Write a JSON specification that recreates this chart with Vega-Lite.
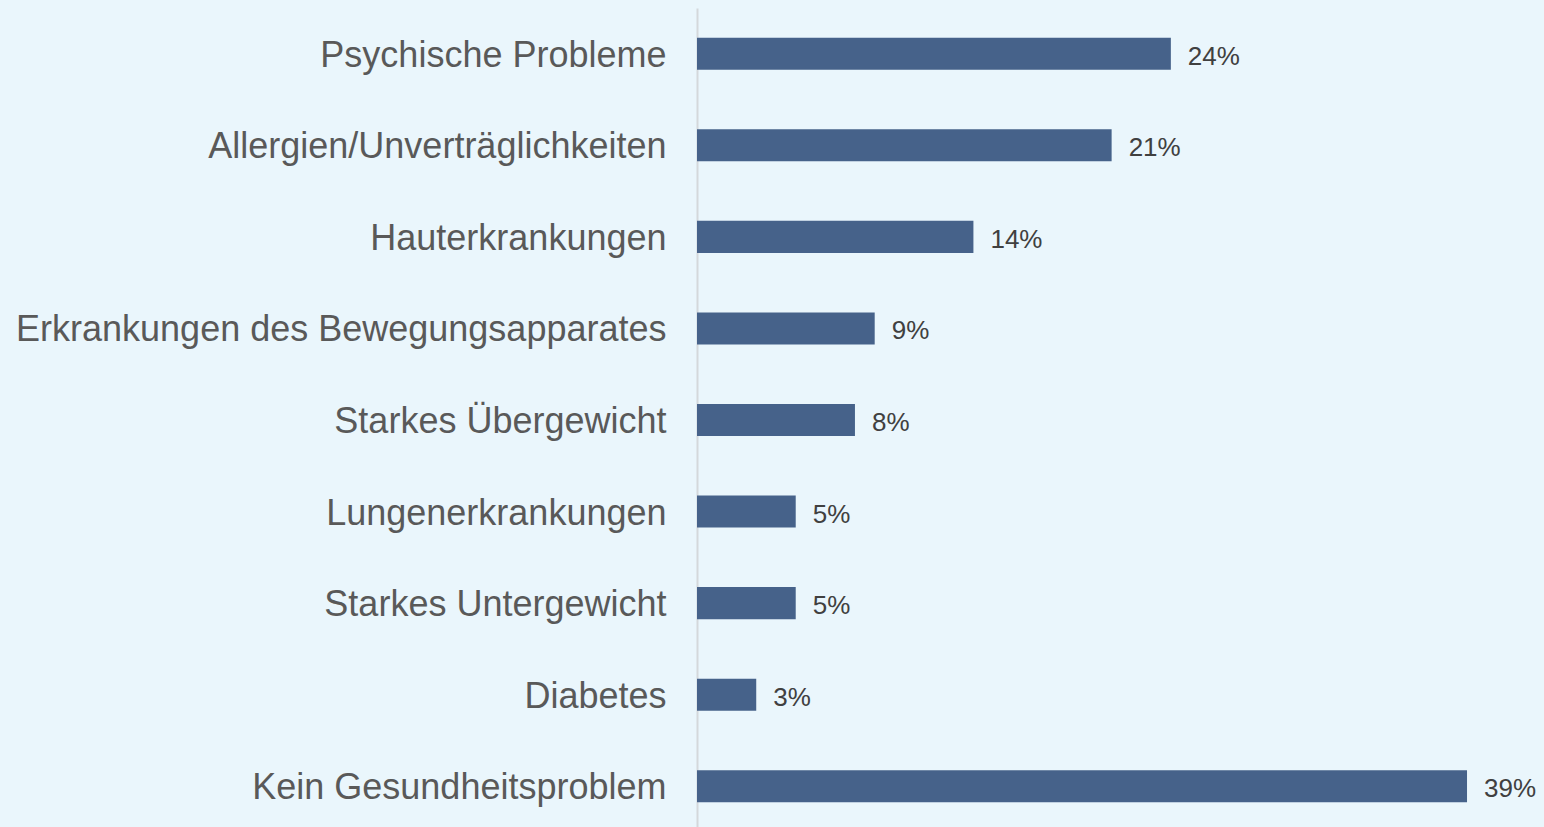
{
  "$schema": "https://vega.github.io/schema/vega-lite/v6.json",
  "width": 849,
  "height": 824,
  "autosize": {"type": "none"},
  "padding": {"left": 697, "top": 8, "right": 0, "bottom": 0},
  "background": "#EAF6FC",
  "config": {
    "view": {"stroke": null},
    "font": "Liberation Sans"
  },
  "data": {
    "values": [
      {"kategorie": "Psychische Probleme", "wert": 0.24},
      {"kategorie": "Allergien/Unverträglichkeiten", "wert": 0.21},
      {"kategorie": "Hauterkrankungen", "wert": 0.14},
      {"kategorie": "Erkrankungen des Bewegungsapparates", "wert": 0.09},
      {"kategorie": "Starkes Übergewicht", "wert": 0.08},
      {"kategorie": "Lungenerkrankungen", "wert": 0.05},
      {"kategorie": "Starkes Untergewicht", "wert": 0.05},
      {"kategorie": "Diabetes", "wert": 0.03},
      {"kategorie": "Kein Gesundheitsproblem", "wert": 0.39}
    ]
  },
  "encoding": {
    "y": {
      "field": "kategorie",
      "type": "nominal",
      "sort": null,
      "scale": {"paddingInner": 0.65, "paddingOuter": 0.325},
      "axis": {
        "title": null,
        "ticks": false,
        "labelFontSize": 36,
        "labelColor": "#595959",
        "labelPadding": 31,
        "labelOffset": 2,
        "labelLimit": 700,
        "domainColor": "#D4D8DB",
        "domainWidth": 2
      }
    },
    "x": {
      "field": "wert",
      "type": "quantitative",
      "scale": {"domain": [0, 0.43], "nice": false},
      "axis": null
    }
  },
  "layer": [
    {"mark": {"type": "bar", "color": "#46628A"}},
    {
      "mark": {"type": "text", "align": "left", "baseline": "middle", "dx": 17, "dy": 3, "fontSize": 26, "color": "#404040"},
      "encoding": {"text": {"field": "wert", "type": "quantitative", "format": ".0%"}}
    }
  ]
}
